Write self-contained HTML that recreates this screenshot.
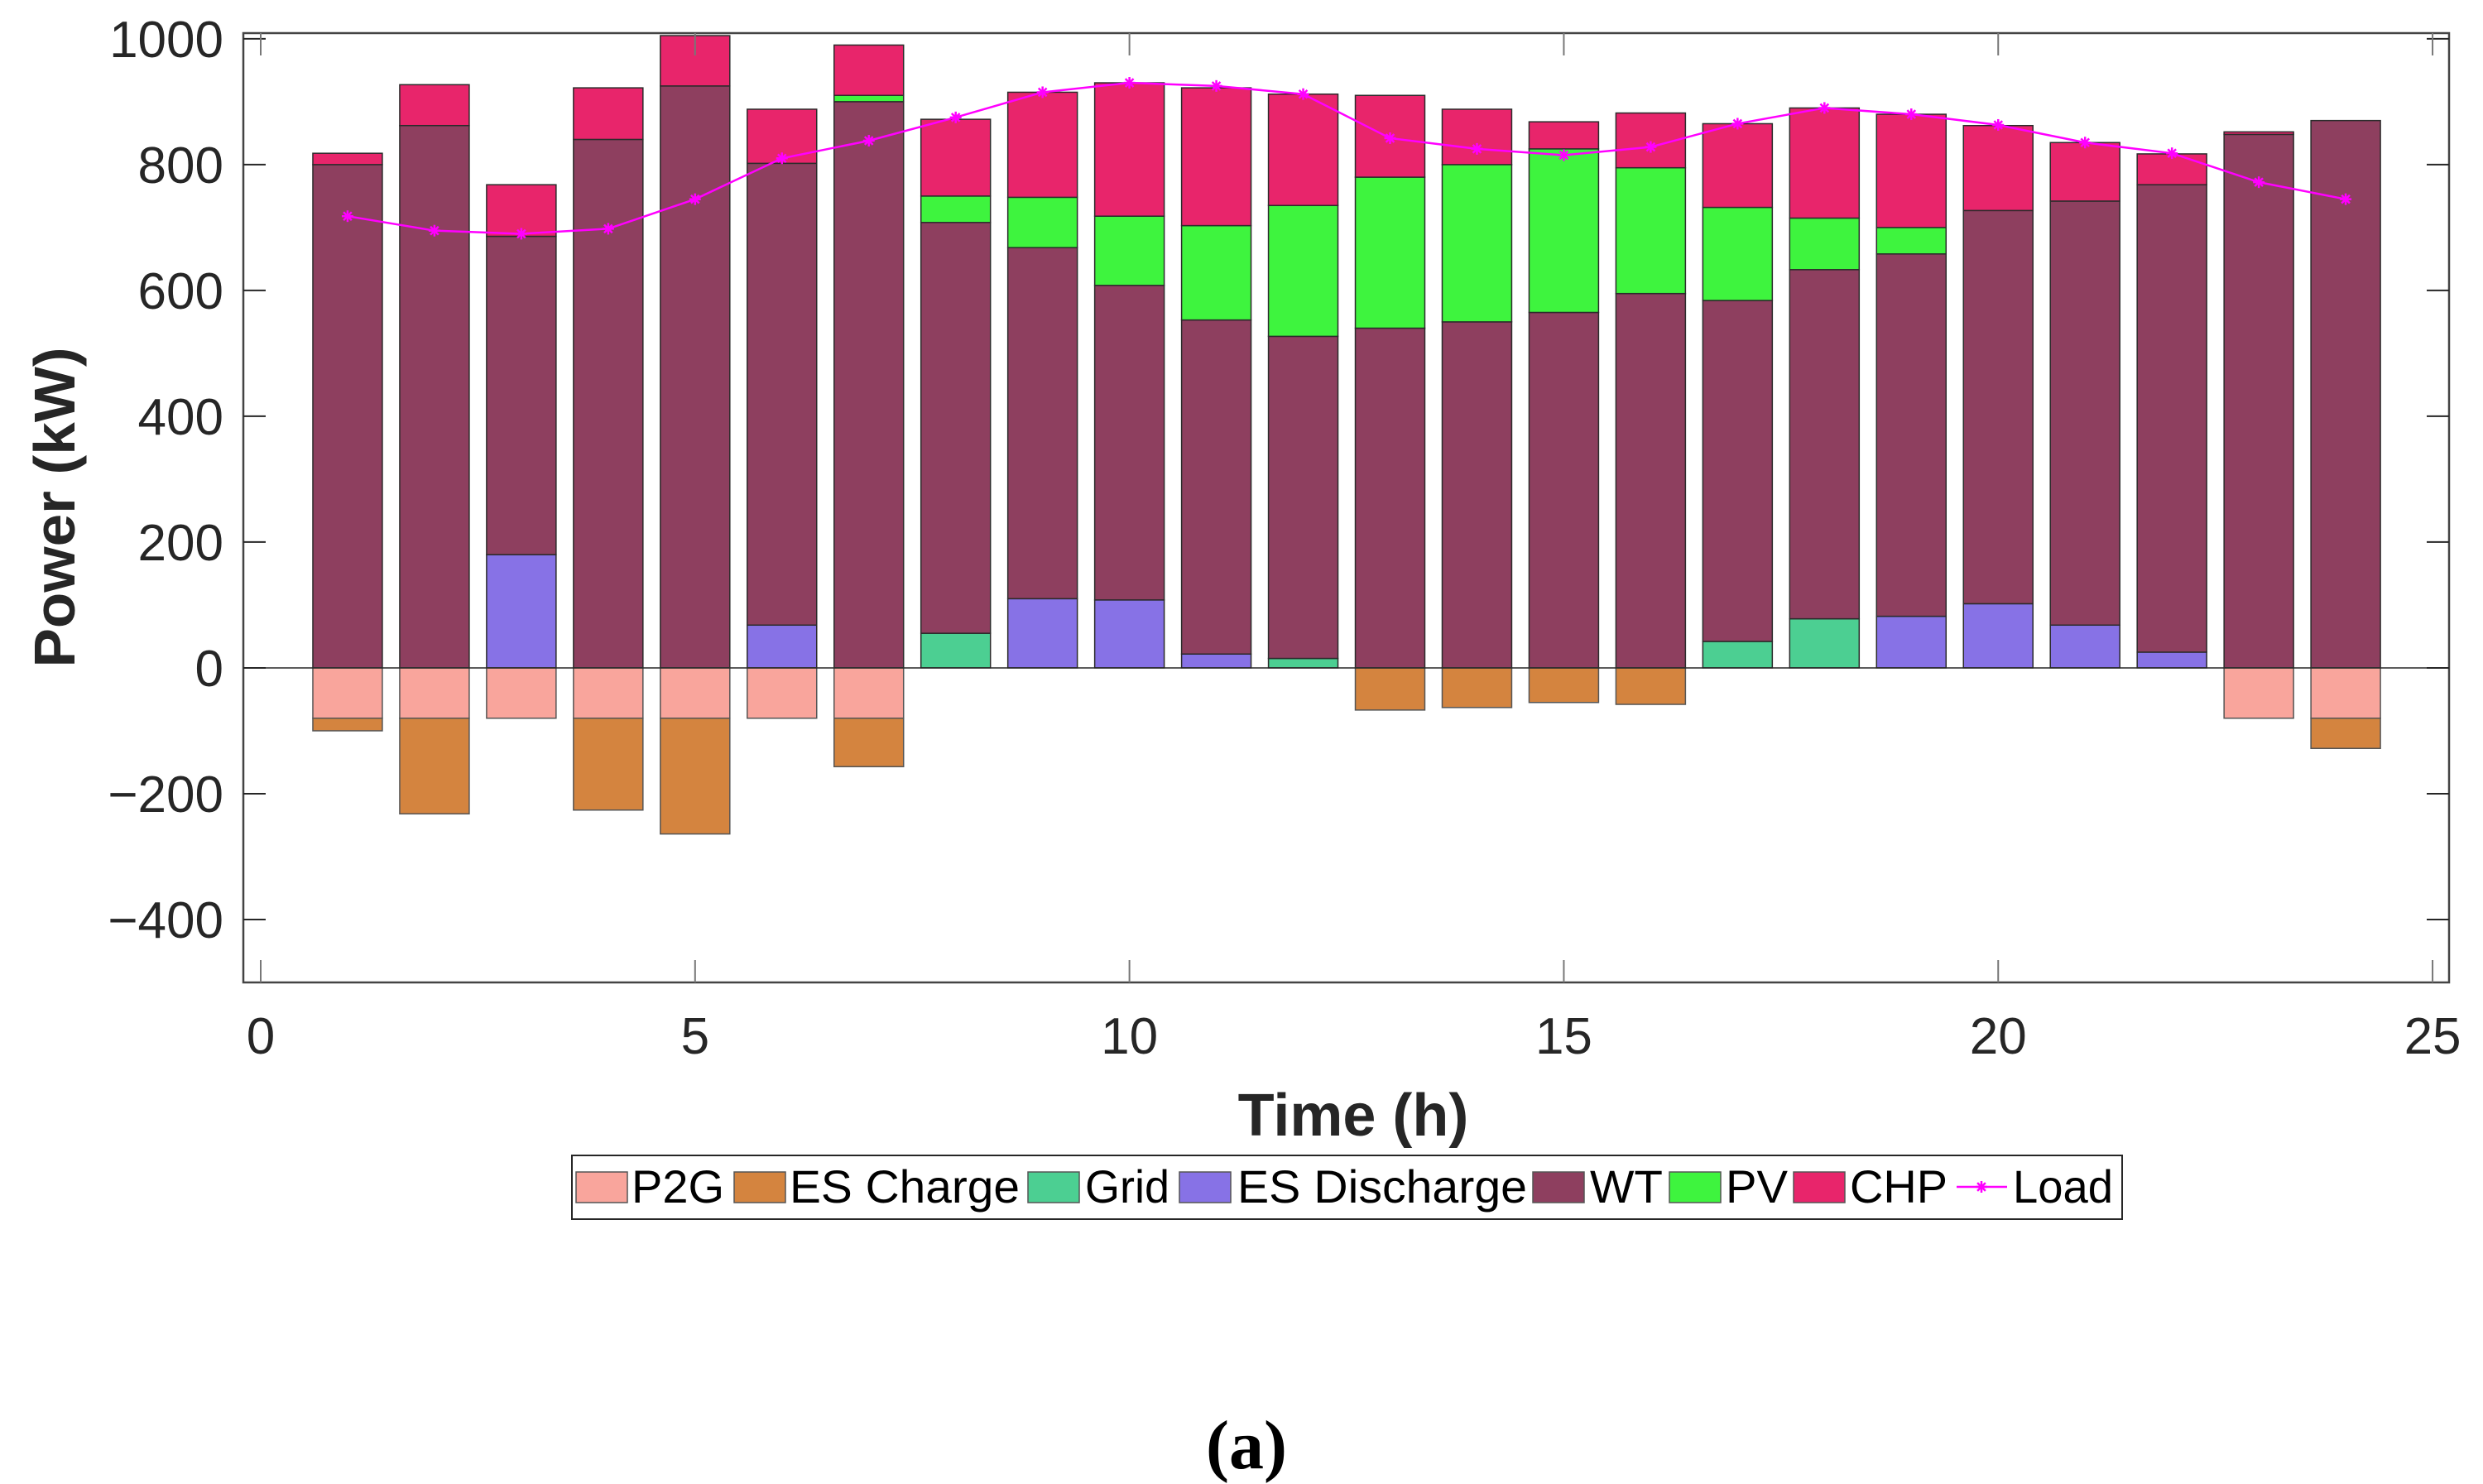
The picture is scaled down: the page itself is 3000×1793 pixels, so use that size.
<!DOCTYPE html>
<html><head><meta charset="utf-8"><style>html,body{margin:0;padding:0;background:#fff}svg{display:block}</style></head>
<body>
<svg id="chart" width="3000" height="1793" viewBox="0 0 3000 1793" xmlns="http://www.w3.org/2000/svg" font-family="'Liberation Sans', Arial, sans-serif">
<rect width="3000" height="1793" fill="#fff"/>
<g id="bars"></g>
<g id="axes"></g>
<g id="load"></g>
<text x="0" y="0" transform="translate(90,613) rotate(-90)" text-anchor="middle" font-size="70" font-weight="bold" fill="#262626" textLength="387" lengthAdjust="spacingAndGlyphs">Power (kW)</text>
<text x="1635" y="1372" text-anchor="middle" font-size="72" font-weight="bold" fill="#262626">Time (h)</text>
<text x="1506" y="1774" text-anchor="middle" font-size="84" font-weight="bold" font-family="'Liberation Serif', serif" fill="#000">(a)</text>
<g id="legend"></g>
</svg>
<script>
const hours = [1,2,3,4,5,6,7,8,9,10,11,12,13,14,15,16,17,18,19,20,21,22,23,24];
const grid = [0,0,0,0,0,0,0,55,0,0,0,15,0,0,0,0,42,78,0,0,0,0,0,0];
const esDischarge = [0,0,180,0,0,68,0,0,110,108,22,0,0,0,0,0,0,0,82,102,68,25,0,0];
const wt = [800,862,506,840,925,734,900,653,558,500,531,512,540,550,565,595,542,555,576,625,674,743,848,870];
const pv = [0,0,0,0,0,0,10,42,80,110,150,208,240,250,260,200,148,82,42,0,0,0,0,0];
const chp = [18,65,82,82,80,86,80,122,167,212,219,177,130,88,43,87,133,175,180,135,93,49,4,0];
const p2g = [80,80,80,80,80,80,80,0,0,0,0,0,0,0,0,0,0,0,0,0,0,0,80,80];
const esCharge = [20,152,0,146,184,0,77,0,0,0,0,0,67,63,55,58,0,0,0,0,0,0,0,48];
const load = [718,695,690,698,745,810,838,875,915,930,925,912,842,825,815,828,865,890,880,863,835,818,772,745];
const yTicks = [-400,-200,0,200,400,600,800,1000];
const xTicks = [0,5,10,15,20,25];

const NS='http://www.w3.org/2000/svg';
const X0=294,X1=2959,Y0=40,Y1=1187;
const xmin=-0.2,xmax=25.19,ymin=-500,ymax=1009;
const sx=v=>X0+(v-xmin)/(xmax-xmin)*(X1-X0);
const sy=v=>Y1-(v-ymin)/(ymax-ymin)*(Y1-Y0);
function mk(tag,attrs,parent){const e=document.createElementNS(NS,tag);for(const k in attrs)e.setAttribute(k,attrs[k]);parent.appendChild(e);return e;}
const C={p2g:'#f9a59c',esc:'#d4843f',grid:'#4ccf92',esd:'#8772e6',wt:'#8e3f5f',pv:'#3ef43e',chp:'#e8256b'};
const bars=document.getElementById('bars');
const bw=0.8;
hours.forEach((h,i)=>{
  let base=0;
  const pos=[['grid',grid[i]],['es-discharge',esDischarge[i]],['wt',wt[i]],['pv',pv[i]],['chp',chp[i]]];
  const col={'grid':C.grid,'es-discharge':C.esd,'wt':C.wt,'pv':C.pv,'chp':C.chp};
  pos.forEach(([n,v])=>{
    if(v<=0)return;
    const r=mk('rect',{x:sx(h-bw/2),y:sy(base+v),width:sx(h+bw/2)-sx(h-bw/2),height:sy(base)-sy(base+v),fill:col[n],stroke:'#2b2b2b','stroke-width':1.5},bars);
    
    
    base+=v;
  });
  let nb=0;
  [['p2g',p2g[i],C.p2g],['es-charge',esCharge[i],C.esc]].forEach(([n,v,c])=>{
    if(v<=0)return;
    const r=mk('rect',{x:sx(h-bw/2),y:sy(nb),width:sx(h+bw/2)-sx(h-bw/2),height:sy(nb-v)-sy(nb),fill:c,stroke:'#555','stroke-width':1.5},bars);
    
    
    nb-=v;
  });
});
const ax=document.getElementById('axes');
const zl=mk('line',{x1:X0,x2:X1,y1:sy(0),y2:sy(0),stroke:'#262626','stroke-width':1.5},ax);


const box=mk('rect',{x:X0,y:Y0,width:X1-X0,height:Y1-Y0,fill:'none',stroke:'#444','stroke-width':2.5},ax);


yTicks.forEach(v=>{
  mk('line',{x1:X0,x2:X0+27,y1:sy(v),y2:sy(v),stroke:'#262626','stroke-width':2},ax);
  mk('line',{x1:X1-27,x2:X1,y1:sy(v),y2:sy(v),stroke:'#262626','stroke-width':2},ax);
  const t=mk('text',{x:270,y:sy(v)+22,'text-anchor':'end','font-size':62,fill:'#262626'},ax);
  t.textContent=v<0?'\u2212'+Math.abs(v):String(v);
  
  
});
xTicks.forEach(v=>{
  mk('line',{x1:sx(v),x2:sx(v),y1:Y1,y2:Y1-27,stroke:'#777','stroke-width':2},ax);
  mk('line',{x1:sx(v),x2:sx(v),y1:Y0,y2:Y0+27,stroke:'#777','stroke-width':2},ax);
  const t=mk('text',{x:sx(v),y:1273,'text-anchor':'middle','font-size':62,fill:'#262626'},ax);
  t.textContent=String(v);
  
  
});
const lg=document.getElementById('load');
const pts=hours.map((h,i)=>sx(h)+','+sy(load[i])).join(' ');
const pl=mk('polyline',{points:pts,fill:'none',stroke:'#ff00ff','stroke-width':2.5},lg);


function star(cx,cy,s,parent){
  const g=mk('g',{stroke:'#ff00ff','stroke-width':2.5},parent);
  mk('line',{x1:cx-s,x2:cx+s,y1:cy,y2:cy},g);
  mk('line',{x1:cx,x2:cx,y1:cy-s,y2:cy+s},g);
  mk('line',{x1:cx-s*.7,x2:cx+s*.7,y1:cy-s*.7,y2:cy+s*.7},g);
  mk('line',{x1:cx-s*.7,x2:cx+s*.7,y1:cy+s*.7,y2:cy-s*.7},g);
  return g;
}
hours.forEach((h,i)=>{const g=star(sx(h),sy(load[i]),7,lg);
  
  });
const L=document.getElementById('legend');
const lb=mk('rect',{x:691,y:1396,width:1873,height:77,fill:'#fff',stroke:'#262626','stroke-width':2},L);


const entries=[['P2G',C.p2g,696,763,112],['ES Charge',C.esc,887,954,278],['Grid',C.grid,1242,1311,102],['ES Discharge',C.esd,1425,1495,350],['WT',C.wt,1852,1921,88],['PV',C.pv,2017,2085,75],['CHP',C.chp,2167,2235,118]];
entries.forEach(([n,c,sx0,tx,tw])=>{
  const g=mk('g',{},L);
  
  
  mk('rect',{x:sx0,y:1416,width:62,height:37,fill:c,stroke:'#555','stroke-width':1.5},g);
  const t=mk('text',{x:tx,y:1453,'font-size':56,fill:'#000',textLength:tw,lengthAdjust:'spacingAndGlyphs'},g);
  t.textContent=n;
});
const gl=mk('g',{},L);


mk('line',{x1:2364,x2:2425,y1:1434,y2:1434,stroke:'#ff00ff','stroke-width':2.5},gl);
star(2394,1434,7,gl);
const tl=mk('text',{x:2432,y:1453,'font-size':56,fill:'#000',textLength:121,lengthAdjust:'spacingAndGlyphs'},gl);
tl.textContent='Load';
</script>
</body></html>
